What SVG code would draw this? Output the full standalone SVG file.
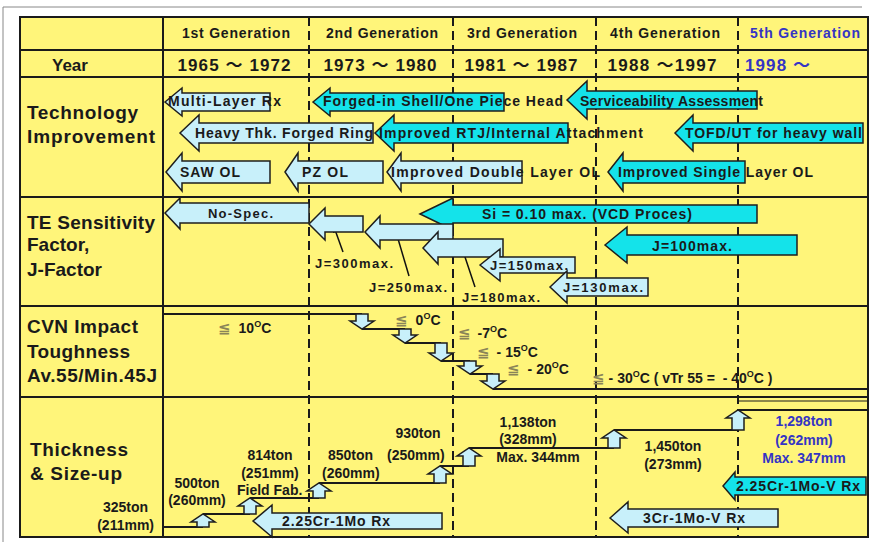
<svg xmlns="http://www.w3.org/2000/svg" width="872" height="542" viewBox="0 0 872 542">
<style>
.t{font-family:"Liberation Sans","Noto Sans CJK JP",sans-serif;font-weight:bold;fill:#1a1a1a}
.h{font-size:14px}
.y{font-size:17px}
.lab{font-size:19px}
.a{font-size:14px}
.j{font-size:13px}
.c{font-size:14px}
.blue{fill:#3434c4}
.le{fill:#8a8458;font-family:"DejaVu Sans",sans-serif;font-weight:bold;font-size:15px}
.lb{fill:#c8f0fa;stroke:#1e1e1e;stroke-width:1.5;stroke-linejoin:miter}
.cy{fill:#14e3ea;stroke:#1e1e1e;stroke-width:1.5}
.grid{stroke:#1a1a1a;stroke-width:2;fill:none}
.dash{stroke:#1a1a1a;stroke-width:2;stroke-dasharray:9 5;fill:none}
.ln{stroke:#1a1a1a;stroke-width:2;fill:none}
.ptr{stroke:#111;stroke-width:1.5;fill:none;marker-end:url(#ah)}
</style>
<defs>
<marker id="ah" viewBox="0 0 10 10" refX="9" refY="5" markerWidth="6" markerHeight="6" orient="auto-start-reverse" markerUnits="userSpaceOnUse">
<path d="M0,0 L10,5 L0,10 Z" fill="#111"/>
</marker>
</defs>
<rect width="872" height="542" fill="#ffffff"/>
<path d="M3,542 V7 H862" stroke="#888" stroke-width="1" fill="none"/>
<g id="table">
<rect x="20" y="17" width="848" height="520" fill="#fff57a"/>
<path class="dash" d="M309,17 V537 M453,17 V537 M596,17 V537 M738,17 V537"/>
<path class="grid" d="M163,17 V537 M20,50 H868 M20,77 H868 M20,197 H868 M20,306 H868 M20,397 H868"/>
<rect x="20" y="17" width="848" height="520" class="grid"/>
</g>
<g id="header">
<text class="t h" x="236" y="38" text-anchor="middle" textLength="108">1st Generation</text>
<text class="t h" x="382" y="38" text-anchor="middle" textLength="112">2nd Generation</text>
<text class="t h" x="522" y="38" text-anchor="middle" textLength="110">3rd Generation</text>
<text class="t h" x="665" y="38" text-anchor="middle" textLength="110">4th Generation</text>
<text class="t h blue" x="805" y="38" text-anchor="middle" textLength="110">5th Generation</text>
<text class="t y" x="52" y="71">Year</text>
<text class="t y" x="234" y="71" text-anchor="middle" textLength="113">1965 ～ 1972</text>
<text class="t y" x="380" y="71" text-anchor="middle" textLength="113">1973 ～ 1980</text>
<text class="t y" x="521" y="71" text-anchor="middle" textLength="113">1981 ～ 1987</text>
<text class="t y" x="662" y="71" text-anchor="middle" textLength="109">1988 ～1997</text>
<text class="t y blue" x="745" y="71" textLength="65">1998 ～</text>
</g>
<g id="row-labels">
<text class="t lab" x="27" y="119" textLength="111">Technology</text>
<text class="t lab" x="27" y="143" textLength="128">Improvement</text>
<text class="t lab" x="27" y="229" textLength="128">TE Sensitivity</text>
<text class="t lab" x="27" y="251">Factor,</text>
<text class="t lab" x="27" y="276">J-Factor</text>
<text class="t lab" x="27" y="333" textLength="111">CVN Impact</text>
<text class="t lab" x="27" y="358" textLength="103">Toughness</text>
<text class="t lab" x="27" y="382" textLength="130">Av.55/Min.45J</text>
<text class="t lab" x="30" y="456" textLength="98">Thickness</text>
<text class="t lab" x="30" y="480" textLength="92">&amp; Size-up</text>
</g>
<g id="connectors">
<path class="ln" d="M163,314 H362 M362,329 H405 M405,343 H441 M441,361 H470 M470,374 H493 M493,389 H868"/>
<path class="ln" d="M163,527 H203 M203,514 H250 M250,498 H319 M319,483 H440 M440,466 H469 M469,448 H614 M614,430 H738 M738,410 H868"/>
<path d="M738,401 H868" stroke="#1a1a1a" stroke-width="1" fill="none"/>
<path class="ptr" d="M343,252 L334,227"/>
<path class="ptr" d="M409,276 L396,232"/>
<path class="ptr" d="M475,287 L463,251"/>
</g>
<g id="tech-multilayer"><path class="lb" d="M165,102 L182,88 L182,93 L270,93 L270,111 L182,111 L182,116 Z"/><text class="t a" x="168" y="106" textLength="113">Multi-Layer Rx</text></g>
<g id="tech-forged-shell"><path class="cy" d="M313,102 L330,88 L330,93 L504,93 L504,111 L330,111 L330,116 Z"/><text class="t a" x="323" y="106" textLength="240">Forged-in Shell/One Piece Head</text></g>
<g id="tech-serviceability"><path class="cy" d="M567,100 L587,81 L587,91 L757,91 L757,109 L587,109 L587,119 Z"/><text class="t a" x="580" y="106" textLength="183">Serviceability Assessment</text></g>
<g id="tech-heavy-ring"><path class="lb" d="M180,133 L199,115 L199,123 L373,123 L373,143 L199,143 L199,151 Z"/><text class="t a" x="195" y="138" textLength="178">Heavy Thk. Forged Ring</text></g>
<g id="tech-rtj"><path class="cy" d="M375,133 L394,115 L394,123 L568,123 L568,143 L394,143 L394,151 Z"/><text class="t a" x="379" y="138" textLength="264">Improved RTJ/Internal Attachment</text></g>
<g id="tech-tofd"><path class="cy" d="M675,133 L693,115 L693,123 L863,123 L863,143 L693,143 L693,151 Z"/><text class="t a" x="685" y="138" textLength="177">TOFD/UT for heavy wall</text></g>
<g id="tech-saw"><path class="lb" d="M166,172 L182,153 L182,161 L270,161 L270,183 L182,183 L182,191 Z"/><text class="t a" x="180" y="177" textLength="60">SAW OL</text></g>
<g id="tech-pz"><path class="lb" d="M285,172 L298,153 L298,161 L383,161 L383,183 L298,183 L298,191 Z"/><text class="t a" x="302" y="177" textLength="46">PZ OL</text></g>
<g id="tech-double"><path class="lb" d="M387,172 L401,153 L401,161 L522,161 L522,183 L401,183 L401,191 Z"/><text class="t a" x="391" y="177" textLength="209">Improved Double Layer OL</text></g>
<g id="tech-single"><path class="cy" d="M608,172 L623,153 L623,161 L745,161 L745,183 L623,183 L623,191 Z"/><text class="t a" x="618" y="177" textLength="195">Improved Single Layer OL</text></g>
<g id="te-nospec"><path class="lb" d="M165,213 L180,198 L180,203 L309,203 L309,223 L180,223 L180,229 Z"/><text class="t j" x="208" y="218" textLength="65">No-Spec.</text></g>
<g id="te-si"><path class="cy" d="M420,214 L453,198 L453,205 L757,205 L757,223 L453,223 L453,230 Z"/><text class="t a" x="482" y="219" textLength="210">Si = 0.10 max. (VCD Proces)</text></g>
<g id="te-j300"><path class="lb" d="M309,224 L325,208 L325,216 L363,216 L363,232 L325,232 L325,240 Z"/><text class="t j" x="315" y="268" textLength="78">J=300max.</text></g>
<g id="te-j250"><path class="lb" d="M365,232 L380,216 L380,224 L453,224 L453,240 L380,240 L380,248 Z"/><text class="t j" x="369" y="292" textLength="78">J=250max.</text></g>
<g id="te-j180"><path class="lb" d="M423,248 L438,232 L438,239 L503,239 L503,257 L438,257 L438,264 Z"/><text class="t j" x="462" y="302" textLength="78">J=180max.</text></g>
<g id="te-j150"><path class="lb" d="M480,265 L500,249 L500,257 L575,257 L575,273 L500,273 L500,281 Z"/><text class="t j" x="490" y="270" textLength="78">J=150max.</text></g>
<g id="te-j130"><path class="lb" d="M550,287 L567,271 L567,278 L648,278 L648,296 L567,296 L567,303 Z"/><text class="t j" x="563" y="292" textLength="80">J=130max.</text></g>
<g id="te-j100"><path class="cy" d="M605,245 L627,227 L627,235 L797,235 L797,255 L627,255 L627,263 Z"/><text class="t a" x="652" y="251" textLength="80">J=100max.</text></g>
<g id="cvn-steps">
<path class="lb" d="M356,314 H368 V321 H374 L362,329 L350,321 H356 Z"/>
<path class="lb" d="M399,329 H411 V335 H417 L405,343 L393,335 H399 Z"/>
<path class="lb" d="M435,343 H447 V353 H453 L441,361 L429,353 H435 Z"/>
<path class="lb" d="M464,361 H476 V366 H482 L470,374 L458,366 H464 Z"/>
<path class="lb" d="M487,374 H499 V381 H505 L493,389 L481,381 H487 Z"/>
</g>
<g id="cvn-labels">
<text class="t c" x="218" y="333"><tspan class="le">≦</tspan><tspan dx="8">10</tspan><tspan dy="-6" font-size="9">O</tspan><tspan dy="6">C</tspan></text>
<text class="t c" x="395" y="325"><tspan class="le">≦</tspan><tspan dx="8">0</tspan><tspan dy="-6" font-size="9">O</tspan><tspan dy="6">C</tspan></text>
<text class="t c" x="458" y="338"><tspan class="le">≦</tspan><tspan dx="7">-7</tspan><tspan dy="-6" font-size="9">O</tspan><tspan dy="6">C</tspan></text>
<text class="t c" x="477" y="357"><tspan class="le">≦</tspan><tspan dx="7">- 15</tspan><tspan dy="-6" font-size="9">O</tspan><tspan dy="6">C</tspan></text>
<text class="t c" x="507" y="374"><tspan class="le">≦</tspan><tspan dx="8">- 20</tspan><tspan dy="-6" font-size="9">O</tspan><tspan dy="6">C</tspan></text>
<text class="t c" x="592" y="383"><tspan class="le">≦</tspan><tspan dx="4">- 30</tspan><tspan dy="-6" font-size="9">O</tspan><tspan dy="6">C ( vTr 55 = </tspan><tspan dx="4">- 40</tspan><tspan dy="-6" font-size="9">O</tspan><tspan dy="6">C )</tspan></text>
</g>
<g id="size-steps">
<path class="lb" d="M197,527 H209 V522 H215 L203,514 L191,522 H197 Z"/>
<path class="lb" d="M244,514 H256 V506 H262 L250,498 L238,506 H244 Z"/>
<path class="lb" d="M313,498 H325 V491 H331 L319,483 L307,491 H313 Z"/>
<path class="lb" d="M434,483 H446 V474 H452 L440,466 L428,474 H434 Z"/>
<path class="lb" d="M463,466 H475 V456 H481 L469,448 L457,456 H463 Z"/>
<path class="lb" d="M608,448 H620 V438 H626 L614,430 L602,438 H608 Z"/>
<path class="lb" d="M732,430 H744 V418 H750 L738,410 L726,418 H732 Z"/>
</g>
<g id="size-labels">
<text class="t c" x="148" y="512" text-anchor="end">325ton</text>
<text class="t c" x="154" y="530" text-anchor="end">(211mm)</text>
<text class="t c" x="197" y="488" text-anchor="middle">500ton</text>
<text class="t c" x="197" y="505" text-anchor="middle">(260mm)</text>
<text class="t c" x="270" y="460" text-anchor="middle">814ton</text>
<text class="t c" x="270" y="478" text-anchor="middle">(251mm)</text>
<text class="t c" x="237" y="495">Field Fab.</text>
<text class="t c" x="328" y="460">850ton</text>
<text class="t c" x="387" y="460">(250mm)</text>
<text class="t c" x="322" y="478">(260mm)</text>
<text class="t c" x="418" y="438" text-anchor="middle">930ton</text>
<text class="t c" x="528" y="427" text-anchor="middle">1,138ton</text>
<text class="t c" x="528" y="444" text-anchor="middle">(328mm)</text>
<text class="t c" x="538" y="462" text-anchor="middle">Max. 344mm</text>
<text class="t c" x="673" y="451" text-anchor="middle">1,450ton</text>
<text class="t c" x="673" y="469" text-anchor="middle">(273mm)</text>
<text class="t c blue" x="804" y="426" text-anchor="middle">1,298ton</text>
<text class="t c blue" x="804" y="445" text-anchor="middle">(262mm)</text>
<text class="t c blue" x="804" y="463" text-anchor="middle">Max. 347mm</text>
</g>
<g id="size-225crmo"><path class="lb" d="M253,521 L272,505 L272,513 L442,513 L442,529 L272,529 L272,537 Z"/><text class="t a" x="282" y="526" textLength="108">2.25Cr-1Mo Rx</text></g>
<g id="size-225crmov"><path class="cy" d="M723,486 L735,472 L735,477 L866,477 L866,495 L735,495 L735,500 Z"/><text class="t a" x="736" y="491" textLength="124">2.25Cr-1Mo-V Rx</text></g>
<g id="size-3crmov"><path class="lb" d="M610,518 L628,502 L628,509 L778,509 L778,527 L628,527 L628,533 Z"/><text class="t a" x="643" y="523" textLength="102">3Cr-1Mo-V Rx</text></g>
</svg>
